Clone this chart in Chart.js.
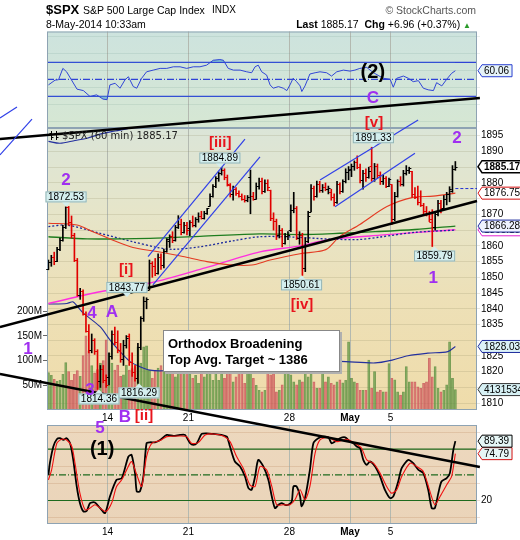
<!DOCTYPE html>
<html>
<head>
<meta charset="utf-8">
<title>$SPX 60 min</title>
<script src="https://cdn.jsdelivr.net/npm/chart.js@4.4.1/dist/chart.umd.min.js"></script>
<style>
    body { margin: 0; background: #fff; }
    #page { position: relative; width: 520px; height: 540px; overflow: hidden; font-family: "Liberation Sans", Arial, sans-serif; }
    #page canvas { position: absolute; left: 0; top: 0; }
    .txt { position: absolute; white-space: nowrap; color: #000; line-height: 1; }
    #note { position: absolute; left: 163px; top: 330px; width: 177px; height: 42px; box-sizing: border-box;
            background: #fff; border: 1px solid #888; box-shadow: 2px 2px 0 #b0b0b0;
            font: bold 13px "Liberation Sans", Arial, sans-serif; line-height: 16px; padding: 5px 0 0 4px; }
</style>
</head>
<body>
<div id="page">
    <canvas id="rsiChart" width="520" height="540"></canvas>
    <canvas id="stochChart" width="520" height="540"></canvas>
    <canvas id="priceChart" width="520" height="540"></canvas>

    <div class="txt" style="left:46px;top:3px;font-size:13px;font-weight:bold">$SPX</div>
    <div class="txt" style="left:83px;top:5px;font-size:10.5px">S&amp;P 500 Large Cap Index</div>
    <div class="txt" style="left:212px;top:5px;font-size:10px">INDX</div>
    <div class="txt" style="right:44px;top:5px;font-size:10.5px;color:#555">© StockCharts.com</div>
    <div class="txt" style="left:46px;top:19px;font-size:10.5px">8-May-2014 10:33am</div>
    <div class="txt" style="right:49px;top:19px;font-size:10.5px"><b>Last</b> 1885.17 &nbsp;<b>Chg</b> +6.96 (+0.37%) <span style="color:#2a9a2a;font-size:8px">▲</span></div>

    <div id="note">Orthodox Broadening<br>Top Avg. Target ~ 1386</div>
</div>

<script>
const FONT = '"Liberation Sans", Arial, sans-serif';

// Hourly bars, 9-Apr-2014 to 8-May-2014 10:33 (7 bars a day)
const openP = [
    1852.6, 1854.8, 1856.5, 1855.2, 1859.0, 1862.0, 1866.0,
    1872.3, 1867.5, 1863.5, 1855.5, 1844.5, 1845.5, 1838.5,
    1833.0, 1827.0, 1830.0, 1826.5, 1817.0, 1821.0, 1817.5,
    1818.2, 1825.0, 1832.0, 1829.5, 1827.0, 1824.0, 1828.5,
    1831.5, 1823.0, 1820.0, 1818.0, 1828.0, 1837.0, 1842.5,
    1846.0, 1854.5, 1853.5, 1851.5, 1856.5, 1854.0, 1858.5,
    1861.7, 1863.0, 1862.0, 1866.0, 1867.0, 1864.5, 1866.5,
    1865.8, 1867.5, 1866.5, 1868.5, 1869.5, 1869.0, 1870.5,
    1872.6, 1876.0, 1879.0, 1881.5, 1883.0, 1884.0, 1882.0,
    1879.3, 1876.5, 1878.0, 1876.8, 1876.0, 1875.0, 1874.5,
    1882.0, 1876.0, 1875.0, 1879.0, 1880.5, 1877.5, 1880.0,
    1877.7, 1869.0, 1868.0, 1863.5, 1865.0, 1861.0, 1863.0,
    1865.0, 1871.5, 1872.0, 1862.5, 1863.5, 1853.0, 1861.5,
    1870.8, 1878.5, 1876.0, 1879.5, 1877.8, 1878.8, 1878.0,
    1877.1, 1875.5, 1874.0, 1879.5, 1877.5, 1880.5, 1883.5,
    1884.4, 1885.5, 1886.5, 1885.0, 1881.0, 1883.0, 1882.0,
    1885.3, 1881.5, 1885.5, 1882.5, 1880.5, 1881.5, 1879.0,
    1879.5, 1868.5, 1876.0, 1880.5, 1879.5, 1883.0, 1884.0,
    1883.7, 1876.5, 1875.5, 1874.0, 1873.0, 1871.0, 1870.0,
    1868.5, 1866.0, 1870.0, 1873.5, 1872.0, 1875.0, 1876.5,
    1877.4, 1884.5
];
const highP = [
    1855.5, 1857.0, 1858.0, 1859.5, 1862.5, 1866.5, 1872.4,
    1872.53, 1869.5, 1864.0, 1856.0, 1846.5, 1846.0, 1839.0,
    1835.0, 1832.0, 1830.5, 1827.0, 1822.0, 1822.0, 1819.0,
    1826.0, 1833.0, 1834.2, 1833.0, 1829.0, 1830.0, 1831.5,
    1832.0, 1826.0, 1822.0, 1829.0, 1837.5, 1843.77, 1843.5,
    1855.5, 1855.0, 1856.0, 1857.5, 1857.5, 1859.0, 1862.3,
    1863.5, 1864.5, 1866.5, 1869.6, 1868.5, 1867.5, 1867.5,
    1868.0, 1869.5, 1869.0, 1870.5, 1871.0, 1871.0, 1871.9,
    1876.5, 1879.5, 1882.0, 1883.5, 1884.89, 1884.5, 1882.5,
    1879.8, 1879.0, 1878.5, 1877.5, 1876.5, 1876.0, 1876.0,
    1884.1, 1877.0, 1880.0, 1881.5, 1881.5, 1881.0, 1881.0,
    1877.7, 1870.5, 1868.5, 1866.5, 1865.5, 1864.0, 1864.5,
    1873.0, 1877.0, 1872.5, 1864.5, 1864.0, 1862.5, 1871.0,
    1879.5, 1879.0, 1880.6, 1880.5, 1879.5, 1880.0, 1879.0,
    1878.0, 1876.5, 1880.5, 1880.0, 1881.0, 1884.5, 1885.2,
    1886.0, 1887.0, 1888.6, 1886.0, 1884.0, 1884.5, 1885.0,
    1891.33, 1886.2, 1886.0, 1883.5, 1882.5, 1882.0, 1881.5,
    1879.5, 1877.0, 1881.0, 1882.0, 1884.0, 1885.5, 1885.0,
    1883.7, 1878.5, 1879.0, 1877.5, 1873.5, 1872.5, 1871.0,
    1871.5, 1870.5, 1874.5, 1874.5, 1876.0, 1877.0, 1878.8,
    1885.5, 1886.8
];
const lowP = [
    1852.4, 1853.5, 1854.0, 1855.0, 1858.5, 1861.5, 1865.5,
    1866.5, 1862.5, 1855.0, 1844.0, 1843.0, 1838.0, 1832.6,
    1826.0, 1826.0, 1825.5, 1814.36, 1815.0, 1816.5, 1815.0,
    1815.8, 1824.0, 1828.5, 1826.0, 1823.0, 1822.0, 1827.5,
    1822.0, 1818.5, 1817.0, 1816.29, 1827.0, 1836.0, 1840.0,
    1846.0, 1850.0, 1850.5, 1851.0, 1852.5, 1853.0, 1858.0,
    1859.5, 1861.0, 1861.5, 1865.5, 1863.5, 1864.0, 1863.5,
    1863.2, 1866.0, 1866.0, 1867.5, 1868.5, 1868.5, 1870.0,
    1872.6, 1875.5, 1878.5, 1880.5, 1882.5, 1881.0, 1879.0,
    1875.5, 1874.5, 1876.0, 1875.5, 1874.5, 1873.9, 1874.0,
    1870.2, 1874.5, 1874.8, 1878.0, 1876.5, 1877.0, 1877.5,
    1868.0, 1865.0, 1862.0, 1862.5, 1859.7, 1860.5, 1862.0,
    1864.5, 1870.5, 1862.0, 1860.5, 1850.61, 1851.8, 1861.0,
    1870.8, 1874.5, 1875.5, 1877.0, 1877.0, 1877.5, 1876.5,
    1874.5, 1872.7, 1873.5, 1876.5, 1877.0, 1880.0, 1881.0,
    1882.0, 1884.0, 1884.5, 1880.0, 1878.0, 1880.5, 1881.5,
    1880.5, 1880.5, 1881.5, 1879.5, 1879.5, 1878.5, 1878.8,
    1866.8, 1868.0, 1875.5, 1879.0, 1879.0, 1882.5, 1883.0,
    1875.5, 1875.0, 1873.0, 1872.5, 1870.0, 1869.5, 1867.7,
    1859.79, 1865.0, 1869.5, 1870.5, 1871.5, 1873.0, 1874.0,
    1877.0, 1884.0
];
const closeP = [
    1854.8, 1856.5, 1855.2, 1859.0, 1862.0, 1866.0, 1872.2,
    1867.5, 1863.5, 1855.5, 1844.5, 1845.5, 1838.5, 1833.1,
    1827.0, 1830.0, 1826.5, 1817.0, 1821.0, 1817.5, 1815.7,
    1825.0, 1832.0, 1829.5, 1827.0, 1824.0, 1828.5, 1830.6,
    1823.0, 1820.0, 1818.0, 1828.0, 1837.0, 1842.5, 1843.0,
    1854.5, 1853.5, 1851.5, 1856.5, 1854.0, 1858.5, 1862.3,
    1863.0, 1862.0, 1866.0, 1867.0, 1864.5, 1866.5, 1864.9,
    1867.5, 1866.5, 1868.5, 1869.5, 1869.0, 1870.5, 1871.9,
    1876.0, 1879.0, 1881.5, 1883.0, 1884.0, 1882.0, 1879.6,
    1876.5, 1878.0, 1876.8, 1876.0, 1875.0, 1874.5, 1875.4,
    1876.0, 1875.0, 1879.0, 1880.5, 1877.5, 1880.0, 1878.6,
    1869.0, 1868.0, 1863.5, 1865.0, 1861.0, 1863.0, 1863.4,
    1871.5, 1872.0, 1862.5, 1863.5, 1853.0, 1861.5, 1869.4,
    1878.5, 1876.0, 1879.5, 1877.8, 1878.8, 1878.0, 1878.3,
    1875.5, 1874.0, 1879.5, 1877.5, 1880.5, 1883.5, 1883.95,
    1885.5, 1886.5, 1885.0, 1881.0, 1883.0, 1882.0, 1883.7,
    1881.5, 1885.5, 1882.5, 1880.5, 1881.5, 1879.0, 1881.1,
    1868.5, 1876.0, 1880.5, 1879.5, 1883.0, 1884.0, 1884.7,
    1876.5, 1875.5, 1874.0, 1873.0, 1871.0, 1870.0, 1867.7,
    1866.0, 1870.0, 1873.5, 1872.0, 1875.0, 1876.5, 1878.2,
    1884.5, 1885.17
];
// Volume, millions of shares per hour
const volM = [
    76, 70, 62, 58, 60, 72, 96,
    78, 60, 72, 80, 68, 110, 150,
    120, 90, 75, 82, 95, 100, 142,
    115, 95, 81, 91, 68, 71, 91,
    81, 84, 88, 128, 95, 128, 130,
    81, 64, 81, 85, 90, 80, 120,
    95, 81, 67, 88, 81, 84, 110,
    74, 64, 70, 54, 80, 67, 88,
    84, 60, 86, 60, 74, 64, 98,
    78, 57, 67, 81, 94, 54, 100,
    110, 64, 50, 40, 37, 40, 78,
    71, 74, 37, 40, 51, 78, 135,
    71, 57, 51, 61, 57, 78, 67,
    74, 57, 44, 44, 78, 57, 67,
    54, 51, 57, 61, 55, 60, 138,
    64, 57, 54, 40, 40, 40, 101,
    44, 78, 37, 40, 37, 37, 94,
    64, 61, 37, 30, 37, 88, 57,
    57, 57, 47, 44, 54, 57, 105,
    67, 88, 44, 37, 40, 51, 138,
    64, 41.31534
];

// Overlays as [bar, value]
const maRed = [[0, 1867.2], [9.9, 1866.6], [15.4, 1864.5], [21.3, 1862.2], [29.3, 1859.5], [37.6, 1858.2],
    [46.6, 1856.6], [54.9, 1855], [63.9, 1853.9], [70.5, 1853.9], [76.8, 1855.5], [87.2, 1857.5], [93.4, 1858.2],
    [96.5, 1859], [101, 1863], [107.9, 1866.8], [117.3, 1872.5], [126.3, 1875.4], [133.3, 1875.8], [141, 1876.75]];
const maGreen = [[0, 1862.9], [13.4, 1862.2], [35.2, 1862.4], [52.5, 1863], [73.3, 1863.8], [87.2, 1863.6],
    [101, 1864], [113.2, 1864.5], [127, 1865.2], [141, 1866.28]];
const maNavy = [[0, 1866.1], [6.4, 1866.6], [17.9, 1864], [29.3, 1861.3], [37.6, 1859.5], [43.2, 1858.9],
    [52.5, 1859.7], [63.9, 1861.6], [73.3, 1862.9], [84.7, 1862.8], [96.5, 1862.2], [107.3, 1862], [114.9, 1862.8],
    [127, 1864.3], [141, 1865.0]];
const maPink = [[0, 1841.7], [17.9, 1845.4], [35.2, 1848.2], [54.3, 1853], [73.3, 1858.1], [87.2, 1860],
    [96.5, 1861.9], [114.9, 1863.4], [141, 1865.1]];
const bandLow = [[0, 1841.5], [6.4, 1841.7], [8.5, 1842.2], [9.9, 1840.9], [12, 1838.7], [17.9, 1834.3],
    [21.3, 1830.1], [24.8, 1826.4], [28.3, 1823.2], [31.7, 1821.6], [35.2, 1820.5], [39.7, 1820.3], [52.5, 1821],
    [69.8, 1822.5], [87.2, 1823.2], [101, 1823.3], [113.2, 1822.8], [119.1, 1823.7], [124.6, 1825.1],
    [131.5, 1825.9], [138.4, 1826.4], [141, 1828.03]];
const bandHigh = [[0, 1893.2], [4, 1892.6], [9.2, 1893.5], [13.4, 1894.2], [17.9, 1895.5], [23.1, 1896.5],
    [29.3, 1897.6], [35.2, 1899.5], [52.5, 1902], [87.2, 1903], [121.8, 1901], [141, 1900]];

// RSI (top panel)
const rsiPoints = [[0, 43.4], [2.3, 49], [3.5, 49.5], [5, 62.8], [6.3, 58.8], [9.9, 38.4], [12.1, 36.7], [14.4, 29.8],
    [16.7, 31.7], [18.9, 26.7], [20.3, 26], [21.3, 43.4], [23.1, 45.3], [24.8, 39.5], [26.5, 49.2], [27.7, 53],
    [29.4, 41.4], [30.6, 39.5], [32.3, 51.2], [34, 58.8], [36.3, 60.8], [38.7, 62.8], [41, 62.8], [43.3, 64.7],
    [45.6, 64.7], [47.9, 62.8], [50.2, 64.7], [52.5, 64.7], [54.8, 66.6], [57.1, 72.4], [59.4, 73.2], [60.6, 72.4],
    [62.3, 62.8], [64.1, 60.8], [66.4, 60.8], [68.7, 58.8], [70.4, 57.7], [71.6, 64.7], [72.7, 66.6], [73.9, 58.8],
    [75.6, 55], [76.8, 43.4], [77.9, 39.5], [79.7, 41.4], [81.4, 39.5], [82.6, 36.7], [83.7, 43.4], [84.8, 51.2],
    [86, 47.2], [87.2, 42.2], [87.8, 35.6], [88.9, 42.2], [90.6, 56.2], [92.4, 57.7], [94.1, 58.8], [96.4, 57.7],
    [98.1, 53.8], [99.9, 58.8], [102.2, 60.8], [104.5, 59.6], [106.2, 60.8], [107.9, 62.8], [110.3, 64], [112.5, 58],
    [116, 51.2], [118.4, 50], [119.5, 40.7], [120.7, 51.2], [123, 53.8], [124.7, 51.2], [126.4, 47.2], [128.2, 48.4],
    [129.9, 39.5], [131.6, 37.6], [133.4, 36.7], [134.5, 46], [136.3, 42.2], [138, 50], [139.7, 57], [141, 60.06]];

// Slow stochastic (bottom panel): %K black, %D red
const stochK = [[0, 50], [0.5, 63.6], [1.7, 83.1], [2.9, 91.6], [4, 92.8], [5.2, 90.8], [6.3, 92.8], [7.5, 86.9],
    [8.6, 67.5], [9.8, 36.4], [10.9, 17], [12.1, 7.2], [13.3, 8], [14.4, 17], [16.1, 17.7], [17.9, 11], [19.6, 5.3],
    [21.3, 24.7], [23.6, 44.2], [25.4, 46.1], [27.7, 71.4], [28.8, 73.3], [30, 52], [30.6, 30.6], [31.7, 30.6],
    [32.9, 48.1], [34, 86.9], [35.2, 88.1], [36.9, 88.1], [38.7, 90.8], [41, 96.7], [43.3, 95.5], [45.6, 96.7],
    [47.3, 96.7], [49.1, 86.9], [50.2, 85], [51.4, 86.9], [53.1, 97.8], [54.8, 98.6], [57.1, 97.8], [60, 96.7],
    [61.8, 94.7], [62.9, 83.1], [64.6, 65.6], [66.4, 59.7], [68.1, 48.1], [69.3, 34.4], [70.4, 32.5], [71.6, 48.1],
    [72.7, 67.5], [74.5, 59.7], [76.2, 44.2], [77.4, 24.7], [78.5, 11.1], [79.7, 15], [80.8, 17], [82, 15],
    [83.1, 15], [84.3, 18.9], [84.9, 36.4], [86, 36.4], [87.2, 24.7], [87.7, 13.1], [88.9, 22.8], [90.6, 55.8],
    [91.8, 86.9], [93.5, 92.8], [95.3, 94.7], [97, 93.9], [98.1, 86.9], [99.3, 88.9], [101, 92.8], [102.8, 93.9],
    [104.5, 88.9], [105.7, 86.9], [106.8, 83.1], [108, 81.1], [109.1, 67.5], [110.3, 61.7], [111.4, 65.6],
    [113.2, 59.7], [114.9, 48.1], [116.6, 32.5], [118.4, 22.8], [119.5, 24.7], [121.2, 42.2], [122.4, 57.8],
    [124.7, 67.5], [126.4, 63.6], [128.2, 55.8], [129.9, 52], [131.6, 32.5], [132.8, 11.1], [133.9, 11.1],
    [135.1, 28.6], [136.2, 42.2], [138, 46.1], [139.1, 52], [140.3, 79.2], [141, 89.39]];
const stochD = [[0, 44.2], [1.1, 55.8], [2.9, 86.9], [4.6, 91.6], [6.3, 90.8], [8.1, 83.1], [9.2, 63.6], [10.9, 28.6],
    [12.7, 9.2], [14.4, 11.1], [16.1, 15], [17.9, 11.1], [19.9, 7.2], [21.9, 17], [23.6, 36.4], [25.4, 44.2],
    [27.1, 55.8], [28.8, 65.6], [30.6, 50], [32.3, 36.4], [34, 71.4], [35.8, 86.9], [38.7, 90.1], [41, 94.7],
    [45.6, 95.5], [47.9, 94.7], [49.6, 86.9], [51.9, 87.7], [54.3, 96.7], [57.1, 97.8], [60.6, 95.5], [62.9, 88.9],
    [65.2, 71.4], [67.5, 57.8], [69.8, 38.3], [71.6, 36.4], [73.3, 59.7], [75.6, 55.8], [77.4, 36.4], [79.1, 15],
    [81.4, 15], [83.7, 15], [85.4, 20.8], [87.2, 32.5], [88.9, 20.8], [90.6, 36.4], [92.4, 75.3], [94.1, 90.8],
    [97, 93.9], [99.9, 88.9], [103.3, 91.6], [106.2, 86.9], [108.5, 81.1], [110.3, 67.5], [112.6, 63.6],
    [114.9, 52], [117.2, 36.4], [118.9, 28.6], [120.7, 32.5], [122.4, 48.1], [125.3, 63.6], [127.6, 59.7],
    [129.9, 54], [132.2, 30.6], [133.9, 15], [135.7, 24.7], [138, 38.3], [139.7, 48.1], [141, 74.79]];

// Time axis: first bar of each labelled day, 149 hourly slots in view
const weekLabels = ['14', '21', '28', 'May', '5'];
const weekStart = [21, 49, 84, 105, 119];
const lastSlot = 148;

const hiddenPriceTicks = [1885, 1875, 1865, 1830, 1815];
const rsiTickLabels = [10, 30, 50, 70, 90];
const stochTickLabels = [20, 50];
const prevClose = 1878.21;

// Drawn trend lines, in [bar, price]
const trendLines = [
    { from: [-16.8, 1893.95], to: [149.5, 1906.98], color: '#000', width: 2.5 },
    { from: [-16.8, 1834.2], to: [148.5, 1874.25], color: '#000', width: 2.5 },
    { from: [-16.8, 1819.27], to: [149.5, 1789.7], color: '#000', width: 2.5 },
    { from: [34.5, 1856.6], to: [68.1, 1893.9], color: '#3040e8', width: 1.2 },
    { from: [36.2, 1847.6], to: [73.3, 1888.3], color: '#3040e8', width: 1.2 },
    { from: [94.1, 1880.9], to: [128.1, 1900.0], color: '#3040e8', width: 1.2 },
    { from: [99.3, 1872.4], to: [127.0, 1889.4], color: '#3040e8', width: 1.2 },
    { from: [-16.8, 1900.66], to: [-10.9, 1904.15], color: '#3040e8', width: 1.2 },
    { from: [-16.8, 1888.9], to: [-5.7, 1900.3], color: '#3040e8', width: 1.2 },
    { from: [141, prevClose], to: [148.5, prevClose], color: '#2030d0', width: 1, dash: [3, 2] }
];

// Price callouts: box above (up) or below the marked price
const callouts = [
    { bar: 6.1, v: 1872.53, up: true },
    { bar: 27.2, v: 1843.77, up: true },
    { bar: 59.4, v: 1884.89, up: true },
    { bar: 112.6, v: 1891.33, up: true },
    { bar: 87.7, v: 1850.61, up: false },
    { bar: 133.8, v: 1859.79, up: false },
    { bar: 17.5, v: 1814.36, up: false },
    { bar: 31.4, v: 1816.29, up: false }
];

// Elliott wave labels
const labelStyle = { wave: ['#a02ff0', 17], sub: ['#e8141c', 15], deg: ['#000', 20] };
const priceLabels = [
    { t: '2', bar: 6.1, v: 1880.9, k: 'wave' }, { t: '[i]', bar: 26.9, v: 1852.3, k: 'sub' },
    { t: '[iii]', bar: 59.5, v: 1892.7, k: 'sub' }, { t: '[v]', bar: 112.8, v: 1899.0, k: 'sub' },
    { t: '2', bar: 141.6, v: 1894.3, k: 'wave' }, { t: '[iv]', bar: 87.9, v: 1841.2, k: 'sub' },
    { t: '1', bar: 133.3, v: 1849.8, k: 'wave' }, { t: '4', bar: 15.1, v: 1838.7, k: 'wave' },
    { t: 'A', bar: 22.0, v: 1839.0, k: 'wave' }, { t: '1', bar: -7.1, v: 1827.2, k: 'wave' },
    { t: '3', bar: 14.4, v: 1814.2, k: 'wave' }, { t: 'B', bar: 26.5, v: 1805.6, k: 'wave' },
    { t: '[ii]', bar: 33.1, v: 1805.9, k: 'sub' }
];
const rsiLabels = [{ t: '(2)', bar: 112.4, v: 58.5, k: 'deg' }, { t: 'C', bar: 112.4, v: 27.1, k: 'wave' }];
const stochLabels = [{ t: '5', bar: 17.9, v: 104.8, k: 'wave' }, { t: '(1)', bar: 18.6, v: 79.2, k: 'deg' }];

// Helpers
const last = arr => arr[arr.length - 1];
const toXY = pts => pts.map(p => ({ x: p[0], y: p[1] }));
const slots = openP.map((_, i) => i);
const isUp = closeP.map((c, i) => c >= (i === 0 ? openP[0] : closeP[i - 1]));

function timeAxis(showLabels) {
    return {
        type: 'linear', min: -0.5, max: lastSlot + 0.5, offset: false,
        afterBuildTicks: axis => { axis.ticks = weekStart.map(b => ({ value: b - 0.5 })); },
        afterFit: axis => { axis.height = showLabels ? 14 : 0; },
        grid: { color: '#b3b9b0', drawTicks: false, offset: false },
        border: { display: false },
        ticks: {
            display: showLabels, autoSkip: false, maxRotation: 0, padding: 2, color: '#000',
            callback: v => weekLabels[weekStart.indexOf(Math.round(v + 0.5))],
            font: c => ({ family: FONT, size: 10, weight: c.tick && c.tick.label === 'May' ? 'bold' : 'normal' })
        }
    };
}

function valueAxis(min, max, step, gridColor, labelFn) {
    return {
        position: 'right', min: min, max: max,
        afterFit: axis => { axis.width = 43; },
        border: { display: false },
        grid: { color: gridColor, tickLength: 3 },
        ticks: { stepSize: step, includeBounds: false, padding: 1, color: '#000', font: { family: FONT, size: 10 }, callback: labelFn }
    };
}

// Panel background, reference levels and frame
function makePanel(stops, levels) {
    return {
        id: 'panel',
        beforeDraw(chart) {
            const { ctx, chartArea: a } = chart;
            const g = ctx.createLinearGradient(0, a.top, 0, a.bottom);
            stops.forEach(s => g.addColorStop(s[0], s[1]));
            ctx.save();
            ctx.fillStyle = g;
            ctx.fillRect(a.left, a.top, a.width, a.height);
            ctx.restore();
        },
        beforeDatasetsDraw(chart) {
            const { ctx, chartArea: a } = chart;
            ctx.save();
            levels.forEach(l => {
                const py = chart.scales.y.getPixelForValue(l.v);
                ctx.strokeStyle = l.color;
                ctx.lineWidth = 1.2;
                ctx.setLineDash(l.dash || []);
                ctx.beginPath();
                ctx.moveTo(a.left, py);
                ctx.lineTo(a.right, py);
                ctx.stroke();
            });
            ctx.restore();
        },
        afterDatasetsDraw(chart) {
            const { ctx, chartArea: a } = chart;
            ctx.save();
            ctx.strokeStyle = '#8ea3b3';
            ctx.lineWidth = 1;
            ctx.strokeRect(a.left + 0.5, a.top + 0.5, a.width - 1, a.height - 1);
            ctx.restore();
        }
    };
}

function drawTag(ctx, x, y, text, border, fill, bold) {
    ctx.save();
    ctx.font = (bold ? 'bold ' : '') + '10px ' + FONT;
    const w = ctx.measureText(text).width + 4;
    const h = 12;
    ctx.beginPath();
    ctx.moveTo(x, y);
    ctx.lineTo(x + 4, y - h / 2);
    ctx.lineTo(x + 5 + w, y - h / 2);
    ctx.lineTo(x + 5 + w, y + h / 2);
    ctx.lineTo(x + 4, y + h / 2);
    ctx.closePath();
    ctx.fillStyle = fill || '#fff';
    ctx.fill();
    ctx.lineWidth = bold ? 1.5 : 1;
    ctx.strokeStyle = border;
    ctx.stroke();
    ctx.fillStyle = '#000';
    ctx.textAlign = 'left';
    ctx.textBaseline = 'middle';
    ctx.fillText(text, x + 6, y + 0.5);
    ctx.restore();
}

function drawCallout(ctx, x, yTip, text, up) {
    ctx.save();
    ctx.font = '10px ' + FONT;
    const w = ctx.measureText(text).width + 5;
    const h = 11;
    const top = up ? yTip - 4 - h : yTip + 4;
    const base = up ? top + h : top;
    ctx.fillStyle = '#d4eeee';
    ctx.strokeStyle = '#94b4b4';
    ctx.lineWidth = 1;
    ctx.fillRect(x - w / 2, top, w, h);
    ctx.strokeRect(x - w / 2 + 0.5, top + 0.5, w - 1, h - 1);
    ctx.beginPath();
    ctx.moveTo(x - 4, base);
    ctx.lineTo(x, yTip);
    ctx.lineTo(x + 4, base);
    ctx.closePath();
    ctx.fill();
    ctx.fillStyle = '#000';
    ctx.textAlign = 'center';
    ctx.textBaseline = 'middle';
    ctx.fillText(text, x, top + h / 2 + 0.5);
    ctx.restore();
}

function drawLabels(chart, list) {
    const { ctx, scales: { x, y } } = chart;
    ctx.save();
    ctx.textAlign = 'center';
    ctx.textBaseline = 'middle';
    list.forEach(l => {
        const st = labelStyle[l.k];
        ctx.font = 'bold ' + st[1] + 'px ' + FONT;
        ctx.fillStyle = st[0];
        ctx.fillText(l.t, x.getPixelForValue(l.bar), y.getPixelForValue(l.v));
    });
    ctx.restore();
}

// Price panel extras: open/close ticks, trend lines, callouts, legend, tags
const priceOverlay = {
    id: 'priceOverlay',
    afterDatasetsDraw(chart) {
        const { ctx, scales: { x, y } } = chart;
        ctx.save();
        ctx.lineWidth = 1;
        slots.forEach(i => {
            const cx = x.getPixelForValue(i);
            const yo = Math.round(y.getPixelForValue(openP[i])) + 0.5;
            const yc = Math.round(y.getPixelForValue(closeP[i])) + 0.5;
            ctx.strokeStyle = isUp[i] ? '#000' : '#e00000';
            ctx.beginPath();
            ctx.moveTo(cx - 2.2, yo);
            ctx.lineTo(cx, yo);
            ctx.moveTo(cx, yc);
            ctx.lineTo(cx + 2.2, yc);
            ctx.stroke();
        });
        trendLines.forEach(t => {
            ctx.strokeStyle = t.color;
            ctx.lineWidth = t.width;
            ctx.setLineDash(t.dash || []);
            ctx.beginPath();
            ctx.moveTo(x.getPixelForValue(t.from[0]), y.getPixelForValue(t.from[1]));
            ctx.lineTo(x.getPixelForValue(t.to[0]), y.getPixelForValue(t.to[1]));
            ctx.stroke();
        });
        ctx.restore();
    },
    afterDraw(chart) {
        const { ctx, chartArea: a, scales: { x, y, vol } } = chart;
        callouts.forEach(c => drawCallout(ctx, x.getPixelForValue(c.bar), y.getPixelForValue(c.v), c.v.toFixed(2), c.up));
        drawLabels(chart, priceLabels);

        // legend
        ctx.save();
        ctx.strokeStyle = '#000';
        ctx.lineWidth = 1;
        [a.left + 4.5, a.left + 9.5].forEach(ix => {
            ctx.beginPath();
            ctx.moveTo(ix, a.top + 3); ctx.lineTo(ix, a.top + 12);
            ctx.moveTo(ix - 2, a.top + 5.5); ctx.lineTo(ix, a.top + 5.5);
            ctx.moveTo(ix, a.top + 9.5); ctx.lineTo(ix + 2, a.top + 9.5);
            ctx.stroke();
        });
        ctx.font = '10px "DejaVu Sans", sans-serif';
        ctx.fillStyle = '#222';
        ctx.textBaseline = 'middle';
        ctx.fillText('$SPX (60 min) ' + last(closeP).toFixed(2), a.left + 15, a.top + 8);
        ctx.restore();

        const tx = a.right + 1;
        drawTag(ctx, tx, y.getPixelForValue(last(closeP)), last(closeP).toFixed(2), '#000', '#fff', true);
        drawTag(ctx, tx, y.getPixelForValue(last(maRed)[1]), last(maRed)[1].toFixed(2), '#d41010', '#fff');
        drawTag(ctx, tx, y.getPixelForValue(last(maPink)[1]), last(maPink)[1].toFixed(2), '#e020d0', '#fff');
        drawTag(ctx, tx, y.getPixelForValue(last(maGreen)[1]), last(maGreen)[1].toFixed(2), '#1c2a9c', '#eef2ff');
        drawTag(ctx, tx, y.getPixelForValue(last(bandLow)[1]), last(bandLow)[1].toFixed(2), '#1c2a9c', '#dcf2f8');
        drawTag(ctx, tx, vol.getPixelForValue(last(volM)), String(Math.round(last(volM) * 1e6)), '#333', '#d6f0f4');
    }
};

const rsiOverlay = {
    id: 'rsiOverlay',
    afterDraw(chart) {
        drawLabels(chart, rsiLabels);
        const v = last(rsiPoints)[1];
        drawTag(chart.ctx, chart.chartArea.right + 1, chart.scales.y.getPixelForValue(v), v.toFixed(2), '#2a3fd0', '#e6f3f8');
    }
};

const stochOverlay = {
    id: 'stochOverlay',
    afterDraw(chart) {
        drawLabels(chart, stochLabels);
        const k = last(stochK)[1];
        const d = last(stochD)[1];
        drawTag(chart.ctx, chart.chartArea.right + 1, chart.scales.y.getPixelForValue(d), d.toFixed(2), '#d41010', '#e6f6f6');
        drawTag(chart.ctx, chart.chartArea.right + 1, chart.scales.y.getPixelForValue(k), k.toFixed(2), '#000', '#e6f6f6');
    }
};

const baseOptions = {
    responsive: false,
    animation: false,
    devicePixelRatio: 1,
    events: [],
    plugins: { legend: { display: false }, tooltip: { enabled: false } }
};

function lineSet(pts, color, width, extra) {
    return Object.assign({
        type: 'line', data: toXY(pts), borderColor: color, borderWidth: width,
        pointRadius: 0, tension: 0.3, fill: false, yAxisID: 'y', order: 2
    }, extra || {});
}

document.addEventListener('DOMContentLoaded', function() {
    // RSI panel
    new Chart(document.getElementById('rsiChart'), {
        type: 'line',
        data: {
            datasets: [
                { data: toXY(rsiPoints), borderColor: '#3146d6', borderWidth: 1, pointRadius: 0, tension: 0,
                  fill: { target: { value: 70 }, above: 'rgba(95,170,205,0.7)', below: 'rgba(0,0,0,0)' } },
                { data: toXY(rsiPoints), borderColor: 'rgba(0,0,0,0)', borderWidth: 0, pointRadius: 0, tension: 0,
                  fill: { target: { value: 30 }, above: 'rgba(0,0,0,0)', below: 'rgba(95,170,205,0.7)' } }
            ]
        },
        options: Object.assign({}, baseOptions, {
            layout: { padding: { left: 47, top: 31.5, right: 0, bottom: 412 } },
            scales: {
                x: timeAxis(false),
                y: valueAxis(-7.3, 106.2, 10, 'rgba(90,140,130,0.14)', v => rsiTickLabels.includes(v) ? v : '')
            }
        }),
        plugins: [makePanel([[0, '#cde3de'], [1, '#d6e7d3']], [
            { v: 70, color: '#2f43d6' }, { v: 30, color: '#2f43d6' }, { v: 50, color: '#2f43d6', dash: [7, 2, 1, 2] }
        ]), rsiOverlay]
    });

    // Stochastic panel
    new Chart(document.getElementById('stochChart'), {
        type: 'line',
        data: {
            datasets: [
                { data: toXY(stochD), borderColor: '#f01010', borderWidth: 1.1, pointRadius: 0, tension: 0.25 },
                { data: toXY(stochK), borderColor: '#000', borderWidth: 1.8, pointRadius: 0, tension: 0.25 }
            ]
        },
        options: Object.assign({}, baseOptions, {
            layout: { padding: { left: 47, top: 425, right: 0, bottom: 2 } },
            scales: {
                x: timeAxis(true),
                y: valueAxis(-7.5, 108.3, 10, 'rgba(190,140,100,0.28)', v => stochTickLabels.includes(v) ? v : '')
            }
        }),
        plugins: [makePanel([[0, '#edd8be'], [1, '#ead4b9']], [
            { v: 80, color: '#1e6a1e' }, { v: 20, color: '#1e6a1e' }, { v: 50, color: '#1e6a1e', dash: [7, 2, 1, 2] }
        ]), stochOverlay]
    });

    // Price panel with volume
    new Chart(document.getElementById('priceChart'), {
        type: 'bar',
        data: {
            datasets: [
                {
                    type: 'bar', yAxisID: 'y', order: 1, grouped: false, barThickness: 1,
                    data: slots.map(i => ({ x: i, y: [lowP[i], highP[i]] })),
                    backgroundColor: slots.map(i => isUp[i] ? '#000' : '#e00000')
                },
                lineSet(maRed, '#e43a22', 1.1),
                lineSet(maGreen, '#1f7d1f', 1.3),
                lineSet(maNavy, '#1c2a9c', 1.3, { borderDash: [2, 2] }),
                lineSet(maPink, '#ff2ee0', 1.4),
                lineSet(bandLow, '#24309e', 1.1),
                lineSet(bandHigh, '#24309e', 1.1),
                {
                    type: 'bar', yAxisID: 'vol', order: 3, grouped: false, barThickness: 2.2,
                    data: slots.map(i => ({ x: i, y: volM[i] })),
                    backgroundColor: slots.map(i => isUp[i] ? 'rgba(112,165,80,0.62)' : 'rgba(222,105,110,0.55)'),
                    borderColor: slots.map(i => isUp[i] ? 'rgba(80,130,55,0.7)' : 'rgba(190,70,75,0.7)'),
                    borderWidth: 0.6
                }
            ]
        },
        options: Object.assign({}, baseOptions, {
            layout: { padding: { left: 0, top: 128, right: 0, bottom: 116 } },
            scales: {
                x: timeAxis(true),
                y: valueAxis(1807.84, 1897.45, 5, 'rgba(140,135,95,0.2)', v => hiddenPriceTicks.includes(v) ? '' : v),
                vol: {
                    position: 'left', min: 0, max: 570.9,
                    afterBuildTicks: axis => { axis.ticks = [50, 100, 150, 200].map(v => ({ value: v })); },
                    afterFit: axis => { axis.width = 47; },
                    border: { display: false },
                    grid: { drawOnChartArea: false, tickLength: 4, color: '#666' },
                    ticks: { padding: 1, color: '#000', font: { family: FONT, size: 10 }, callback: v => v + 'M' }
                }
            }
        }),
        plugins: [makePanel([[0, '#dbe5d8'], [0.3, '#e6e5c9'], [0.6, '#ede0b7'], [1, '#efdcaa']], []), priceOverlay]
    });
});
</script>
</body>
</html>
